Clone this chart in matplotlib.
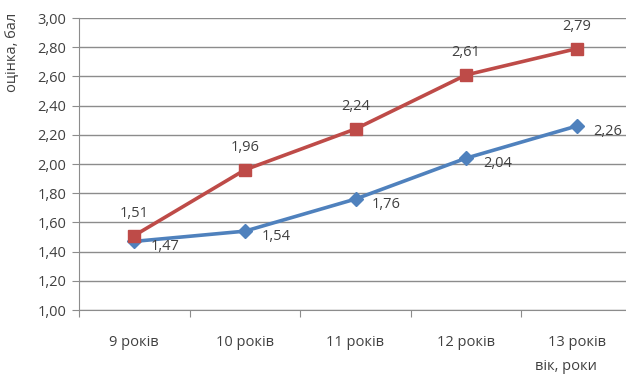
import numpy as np
import matplotlib.pyplot as plt

plt.rcParams['font.family'] = ['Open Sans', 'DejaVu Sans']

# data
ages = ["9 років", "10 років", "11 років", "12 років", "13 років"]
series_red = [1.51, 1.96, 2.24, 2.61, 2.79]
series_blue = [1.47, 1.54, 1.76, 2.04, 2.26]
y_ticks = [1.0, 1.2, 1.4, 1.6, 1.8, 2.0, 2.2, 2.4, 2.6, 2.8, 3.0]

red = "#BE4B48"
blue = "#4F81BD"
grid_col = "#8C8C8C"
text_col = "#404040"

fig = plt.figure(figsize=(6.26, 3.76), dpi=100)
# plot area: y axis at x=79px, right edge beyond the image
ax = fig.add_axes([79 / 626, 1 - 310 / 376, 553 / 626, 292 / 376])
ax.set_clip_on(False)

x = np.arange(len(ages))
ax.plot(x, series_blue, color=blue, lw=2.6, marker="D", ms=7, zorder=3, clip_on=False)
ax.plot(x, series_red, color=red, lw=2.6, marker="s", ms=8.5, zorder=4, clip_on=False)

# value labels
for xi, v in zip(x, series_red):
    ax.annotate(f"{v:.2f}".replace(".", ","), (xi, v), xytext=(0, 16),
                textcoords="offset points", ha="center", va="center",
                fontsize=10.5, color=text_col)
for xi, v in zip(x, series_blue):
    ax.annotate(f"{v:.2f}".replace(".", ","), (xi, v), xytext=(12, -4),
                textcoords="offset points", ha="left", va="center",
                fontsize=10.5, color=text_col)

ax.set_xlim(-0.5, 4.5)
ax.set_ylim(1.0, 3.0)
ax.set_yticks(y_ticks)
ax.set_yticklabels([f"{t:.2f}".replace(".", ",") for t in y_ticks])
ax.yaxis.grid(True, color=grid_col, lw=1)
ax.set_axisbelow(True)

# category boundary ticks
ax.set_xticks(np.arange(-0.5, 4.5, 1.0))
ax.set_xticklabels([])
ax.set_xticks(x, minor=True)
ax.set_xticklabels(ages, minor=True)
ax.tick_params(axis="x", which="major", length=5, color=grid_col, direction="out")
ax.tick_params(axis="x", which="minor", length=0, pad=18, labelsize=10.5, labelcolor=text_col)
ax.tick_params(axis="y", length=5, color=grid_col, labelsize=10.5, labelcolor=text_col, pad=4)

for s in ["top", "right"]:
    ax.spines[s].set_visible(False)
ax.spines["left"].set_color(grid_col)
ax.spines["bottom"].set_color(grid_col)

fig.text(13 / 626, 1 - 52 / 376, "оцінка, бал", rotation=90, ha="center", va="center",
         fontsize=10.5, color=text_col)
fig.text(566 / 626, 1 - 367 / 376, "вік, роки", ha="center", va="center",
         fontsize=10.5, color=text_col)

fig.savefig("out.png", dpi=100)
